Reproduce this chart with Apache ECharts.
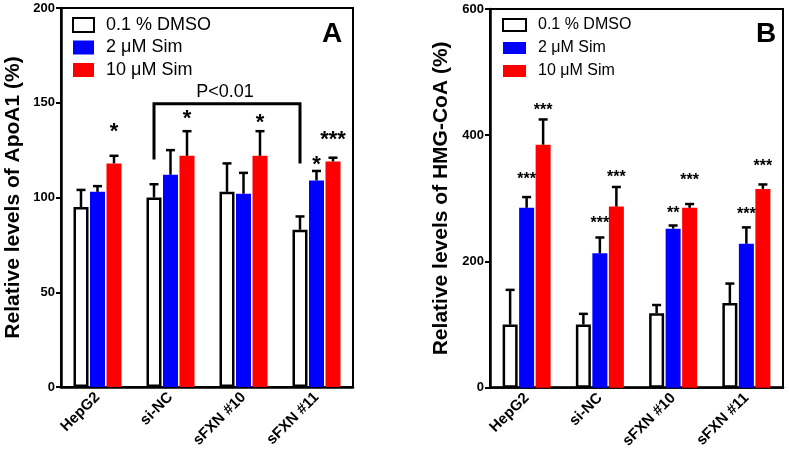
<!DOCTYPE html>
<html>
<head>
<meta charset="utf-8">
<script src="https://cdn.jsdelivr.net/npm/echarts@6/dist/echarts.min.js"></script>
<style>html,body{margin:0;padding:0;background:#fff}#c{width:789px;height:461px}</style>
</head>
<body>
<div id="c"></div>
<script>
// ---- data ----
const categories = ['HepG2', 'si-NC', 'sFXN #10', 'sFXN #11'];
const seriesNames = ['0.1 % DMSO', '2 \u03bcM Sim', '10 \u03bcM Sim'];
// Panel A: ApoA1
const apoDmso = [95, 100, 103, 83];
const apoDmsoErr = [9, 7, 15, 7];
const apoSim2 = [103, 112, 102, 109];
const apoSim2Err = [3, 13, 11, 5];
const apoSim10 = [118, 122, 122, 119];
const apoSim10Err = [4, 13, 13, 2];
// Panel B: HMG-CoA
const hmgDmso = [100, 100, 118, 134];
const hmgDmsoErr = [55, 17, 13, 31];
const hmgSim2 = [285, 213, 252, 228];
const hmgSim2Err = [17, 25, 5, 26];
const hmgSim10 = [385, 287, 285, 315];
const hmgSim10Err = [40, 31, 6, 7];
// significance marks: [category, series, label, value]
const apoStars = [[0, 2, '*', 137], [1, 2, '*', 144], [2, 2, '*', 142], [3, 1, '*', 120], [3, 2, '***', 133]];
const hmgStars = [[0, 1, '***', 335], [0, 2, '***', 445], [1, 1, '***', 266], [1, 2, '***', 339],
                  [2, 1, '**', 282], [2, 2, '***', 334], [3, 1, '***', 280], [3, 2, '***', 356]];
// bracket: [fromCategory, toCategory, level, leftEnd, rightEnd]
const apoBracket = [1, 3, 149.5, 120, 118];
const apoBracketLabel = 'P<0.01';
const apoTicks = [0, 200, 50];
const hmgTicks = [0, 600, 200];

// ---- style ----
const FONT = '"Liberation Sans", Arial, sans-serif';
const BAR_W = 15;
const OFFS = [-16.5, 0, 16.5];
const colors = ['#ffffff', '#0000ff', '#ff0000'];

function barSeries(idx, data, gi) {
  return {
    type: 'bar', name: seriesNames[idx], data: data,
    xAxisIndex: gi, yAxisIndex: gi,
    barWidth: BAR_W, barGap: '10%',
    itemStyle: idx === 0 ? {color: '#fff', borderColor: '#000', borderWidth: 2.5} : {color: colors[idx]},
    emphasis: {disabled: true}, z: 2
  };
}
function errData(lists) {
  const out = [];
  lists.forEach((pair, s) => pair[0].forEach((m, c) => out.push([c, s, m, pair[1][c]])));
  return out;
}
function errSeries(gi, data) {
  return {
    type: 'custom', xAxisIndex: gi, yAxisIndex: gi, data: data, z: 3, silent: true,
    encode: {x: 0, y: 2},
    renderItem: function (params, api) {
      const c = api.value(0), s = api.value(1), m = api.value(2), e = api.value(3);
      const b = api.coord([c, m]), t = api.coord([c, m + e]);
      const x = b[0] + OFFS[s];
      return {type: 'group', children: [
        {type: 'line', shape: {x1: x, y1: b[1], x2: x, y2: t[1]}, style: {stroke: '#000', lineWidth: 2.5}},
        {type: 'line', shape: {x1: x - 4.5, y1: t[1], x2: x + 4.5, y2: t[1]}, style: {stroke: '#000', lineWidth: 2.5}}
      ]};
    }
  };
}
function starSeries(gi, stars, fs) {
  return {
    type: 'custom', xAxisIndex: gi, yAxisIndex: gi, z: 4, silent: true,
    data: stars.map(s => [s[0], s[3]]),
    encode: {x: 0, y: 1},
    renderItem: function (params, api) {
      const s = stars[params.dataIndex];
      const p = api.coord([s[0], s[3]]);
      return {type: 'text', x: p[0] + OFFS[s[1]], y: p[1] + 0.22 * fs,
        style: {text: s[2], fontSize: fs, fontWeight: 'bold', fontFamily: FONT, fill: '#000', align: 'center', verticalAlign: 'middle'}};
    }
  };
}
function bracketSeries(gi, br, label) {
  return {
    type: 'custom', xAxisIndex: gi, yAxisIndex: gi, z: 4, silent: true,
    data: [[br[0], br[2]]], encode: {x: 0, y: 1},
    renderItem: function (params, api) {
      const l = api.coord([br[0], br[2]]), r = api.coord([br[1], br[2]]);
      const lb = api.coord([br[0], br[3]]), rb = api.coord([br[1], br[4]]);
      const xl = l[0] + OFFS[0], xr = r[0] + OFFS[0];
      return {type: 'group', children: [
        {type: 'polyline', shape: {points: [[xl, lb[1]], [xl, l[1]], [xr, r[1]], [xr, rb[1]]]},
          style: {stroke: '#000', lineWidth: 3, fill: null}},
        {type: 'text', x: (xl + xr) / 2 - 2, y: l[1] - 3,
          style: {text: label, fontSize: 18, fontFamily: FONT, fill: '#000', align: 'center', verticalAlign: 'bottom'}}
      ]};
    }
  };
}
function xAxis(gi) {
  return {
    type: 'category', gridIndex: gi, data: categories,
    axisLine: {lineStyle: {color: '#000', width: 2.5}},
    axisTick: {alignWithLabel: true, length: 5, lineStyle: {color: '#000', width: 2}},
    axisLabel: {rotate: 45, interval: 0, color: '#000', fontWeight: 'bold', fontSize: 15, fontFamily: FONT, margin: 8},
    splitLine: {show: false}
  };
}
function yAxis(gi, ticks, name, gap) {
  return {
    type: 'value', gridIndex: gi, min: ticks[0], max: ticks[1], interval: ticks[2],
    name: name, nameLocation: 'middle', nameGap: gap, nameRotate: 90,
    nameTextStyle: {color: '#000', fontWeight: 'bold', fontSize: 21, fontFamily: FONT},
    axisLine: {show: true, lineStyle: {color: '#000', width: 2.5}},
    axisTick: {show: true, length: 5, lineStyle: {color: '#000', width: 2}},
    axisLabel: {color: '#000', fontWeight: 'bold', fontSize: 13, fontFamily: FONT, margin: 6},
    splitLine: {show: false}
  };
}

const chart = echarts.init(document.getElementById('c'), null, {renderer: 'canvas'});
chart.setOption({
  backgroundColor: '#fff',
  animation: false,
  grid: [
    {left: 61, top: 8, width: 292, height: 379, show: true, borderColor: '#000', borderWidth: 2, backgroundColor: 'transparent'},
    {left: 490, top: 9, width: 293, height: 378.7, show: true, borderColor: '#000', borderWidth: 2, backgroundColor: 'transparent'}
  ],
  xAxis: [xAxis(0), xAxis(1)],
  yAxis: [yAxis(0, apoTicks, 'Relative levels of ApoA1 (%)', 37), yAxis(1, hmgTicks, 'Relative levels of HMG-CoA (%)', 38)],
  legend: [
    {left: 72, top: 16, padding: 0, orient: 'vertical', itemWidth: 21, itemHeight: 14, itemGap: 4.5, icon: 'rect',
      selectedMode: false, data: seriesNames,
      textStyle: {color: '#000', fontSize: 18, fontFamily: FONT, padding: [0, 0, 0, 7]}},
    {left: 502, top: 17, padding: 0, orient: 'vertical', itemWidth: 23, itemHeight: 12, itemGap: 7, icon: 'rect',
      selectedMode: false, data: seriesNames,
      textStyle: {color: '#000', fontSize: 16, fontFamily: FONT, padding: [0, 0, 0, 7]}}
  ],
  title: [
    {text: 'A', left: 322, top: 20, textStyle: {fontSize: 28, fontWeight: 'bold', color: '#000', fontFamily: FONT}, padding: 0},
    {text: 'B', left: 756, top: 20, textStyle: {fontSize: 28, fontWeight: 'bold', color: '#000', fontFamily: FONT}, padding: 0}
  ],
  series: [
    barSeries(0, apoDmso, 0), barSeries(1, apoSim2, 0), barSeries(2, apoSim10, 0),
    errSeries(0, errData([[apoDmso, apoDmsoErr], [apoSim2, apoSim2Err], [apoSim10, apoSim10Err]])),
    starSeries(0, apoStars, 22),
    bracketSeries(0, apoBracket, apoBracketLabel),
    barSeries(0, hmgDmso, 1), barSeries(1, hmgSim2, 1), barSeries(2, hmgSim10, 1),
    errSeries(1, errData([[hmgDmso, hmgDmsoErr], [hmgSim2, hmgSim2Err], [hmgSim10, hmgSim10Err]])),
    starSeries(1, hmgStars, 16)
  ]
});
</script>
</body>
</html>
